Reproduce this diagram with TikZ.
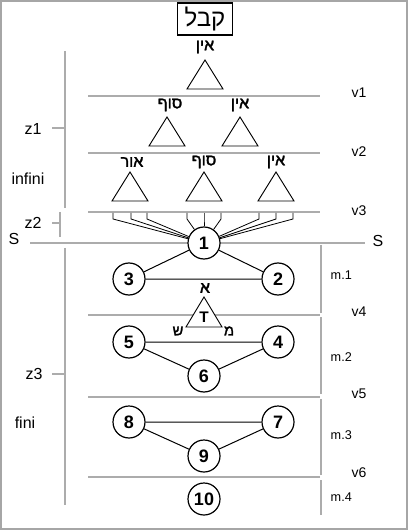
\documentclass[tikz,border=0pt]{standalone}
\usepackage{fontspec}
\setmainfont{Liberation Sans}
\newfontfamily\hebfont[Script=Hebrew]{Liberation Sans}
\newfontfamily\hebbold[Script=Hebrew,FakeBold=2]{Liberation Sans}
\TeXXeTstate=1
\usetikzlibrary{positioning}

\tikzset{
  num/.style={circle, draw, fill=white, line width=0.9pt, minimum size=24pt, inner sep=0pt,
    font=\fontsize{13.5}{13.5}\selectfont\bfseries},
  heb/.style={font=\hebbold\fontsize{12}{12}\selectfont, inner sep=0pt},
  lbl/.style={font=\fontsize{10.5}{12}\selectfont},
  mlbl/.style={font=\fontsize{9.5}{11}\selectfont, anchor=west},
  zlbl/.style={font=\fontsize{12}{13}\selectfont},
  rule/.style={draw=gray!65, line width=0.8pt},
  tri/.style={draw, fill=white, line width=0.7pt},
  edge/.style={draw, line width=0.75pt},
}

\begin{document}
\begin{tikzpicture}[x=0.75pt,y=-0.75pt]
  \useasboundingbox (0,0) rectangle (408,530);
  \draw[gray!70, line width=0.8pt] (1,1) rectangle (407,529);

  % title
  \node[draw, line width=0.8pt, font=\hebfont\fontsize{18}{18}\selectfont,
        inner xsep=5pt, inner ysep=3pt] (kabbalah) at (205,19) {\beginR קבל\endR};

  % levels v1..v6
  \foreach \y/\ly/\v in {96/93/v1,153/152/v2,212/211/v3,315/312/v4,397/394/v5,477/473/v6}{
    \draw[rule] (88,\y) -- (320,\y);
    \node[lbl] (\v) at (359,\ly) {\v};
  }
  \draw[rule] (30,243) -- (365,243);
  \node[font=\fontsize{12}{12}\selectfont] (sleft) at (14,239) {S};
  \node[font=\fontsize{12}{12}\selectfont] (sright) at (378,241) {S};

  % triangles of the infinite part
  \foreach \x/\y in {205/60,167/117,240/117,130/172,204/172,276/172}{
    \draw[tri] (\x,\y) -- ++(-18,29) -- ++(36,0) -- cycle;
  }
  \node[heb] (ein0) at (205,47) {\beginR אין\endR};
  \node[heb] (sof1) at (170,105) {\beginR סוף\endR};
  \node[heb] (ein1) at (240,105) {\beginR אין\endR};
  \node[heb] (or2) at (132,162) {\beginR אור\endR};
  \node[heb] (sof2) at (204,162) {\beginR סוף\endR};
  \node[heb] (ein2) at (276,162) {\beginR אין\endR};

  % sefirot
  \node[num] (n1) at (204,243) {1};
  \node[num] (n3) at (129,279) {3};
  \node[num] (n2) at (278,279) {2};
  \node[num] (n5) at (129,342) {5};
  \node[num] (n4) at (278,342) {4};
  \node[num] (n6) at (204,376) {6};
  \node[num] (n8) at (129,422) {8};
  \node[num] (n7) at (278,422) {7};
  \node[num] (n9) at (204,456) {9};
  \node[num] (n10) at (204,499) {10};

  % legs down to 1
  \foreach \x [count=\i] in {113,131,147,187,204,221,259,276,293}{
    \coordinate (leg\i) at (\x,213);
    \draw[line width=0.6pt] (leg\i) -- ++(0,6) -- (n1);
  }

  \draw[edge] (n1) -- (n3) (n1) -- (n2) (n3) -- (n2);
  \draw[edge] (n5) -- (n4) (n5) -- (n6) (n6) -- (n4);
  \draw[edge] (n8) -- (n7) (n8) -- (n9) (n9) -- (n7);

  % mothers
  \draw[tri] (204,297) -- ++(-18,30) -- ++(36,0) -- cycle;
  \node[font=\fontsize{11.5}{11.5}\selectfont\bfseries] (tav) at (204,317) {T};
  \node[heb] (alef) at (205,288) {א};
  \node[heb, font=\hebbold\fontsize{11}{11}\selectfont] (shin) at (178,331) {ש};
  \node[heb, font=\hebbold\fontsize{11}{11}\selectfont] (mem) at (229,331) {מ};

  % right brackets
  \foreach \a/\b/\ly/\m in {245/313/275/m.1,317/394/357/m.2,399/475/435/m.3,480/515/497/m.4}{
    \draw[rule] (321,\a) -- (321,\b);
    \node[mlbl] at (326,\ly) {\m};
  }

  % left brackets
  \draw[rule] (65,51) -- (65,208) (52,128) -- (65,128);
  \draw[rule] (60,212) -- (60,237) (52,223) -- (60,223);
  \draw[rule] (65,248) -- (65,505) (52,374) -- (65,374);
  \node[zlbl] (z1) at (33,129) {z1};
  \node[zlbl] (infini) at (28,179) {infini};
  \node[zlbl] (z2) at (33,223) {z2};
  \node[zlbl] (z3) at (34,374) {z3};
  \node[zlbl] (fini) at (25,423) {fini};
\end{tikzpicture}
\end{document}
